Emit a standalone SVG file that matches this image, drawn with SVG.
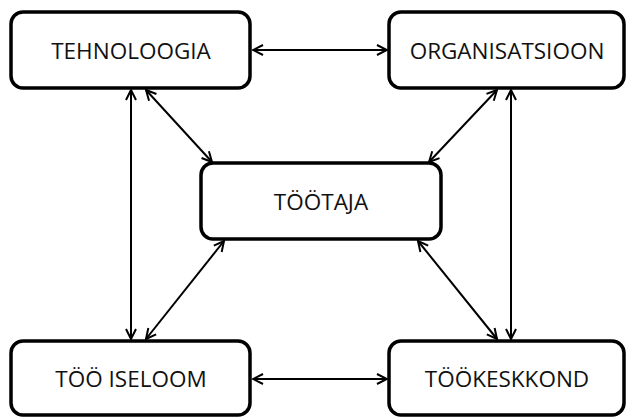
<svg xmlns="http://www.w3.org/2000/svg" width="626" height="417" viewBox="0 0 626 417">
<defs>
<marker id="arr" markerUnits="userSpaceOnUse" markerWidth="14" markerHeight="14" viewBox="0 0 14 14" refX="12" refY="7" orient="auto-start-reverse">
<path d="M2,2 L12,7 L2,12" fill="none" stroke="#000" stroke-width="2" stroke-linejoin="miter"/>
</marker>
</defs>
<style>
.box{fill:#fff;stroke:#000;stroke-width:3.5}
.lbl{font-family:"Open Sans","Segoe UI",sans-serif;font-size:22.5px;fill:#111;text-anchor:middle}
.con{stroke:#000;stroke-width:2;fill:none;marker-start:url(#arr);marker-end:url(#arr)}
</style>
<rect width="626" height="417" fill="#fff"/>
<g id="connectors">
<line class="con" x1="253" y1="50" x2="387" y2="50"/>
<line class="con" x1="253" y1="379" x2="387" y2="379"/>
<line class="con" x1="131" y1="90" x2="131" y2="339"/>
<line class="con" x1="511" y1="90" x2="511" y2="339"/>
<line class="con" x1="146" y1="90" x2="212" y2="162"/>
<line class="con" x1="497" y1="90" x2="429" y2="162"/>
<line class="con" x1="224" y1="241" x2="146" y2="339"/>
<line class="con" x1="418" y1="241" x2="497" y2="339"/>
</g>
<g id="tehnoloogia">
<rect class="box" x="11" y="12" width="239" height="76" rx="12"/>
<text class="lbl" x="131" y="58.5">TEHNOLOOGIA</text>
</g>
<g id="organisatsioon">
<rect class="box" x="389" y="12" width="235" height="76" rx="12"/>
<text class="lbl" x="507" y="58.5">ORGANISATSIOON</text>
</g>
<g id="tootaja">
<rect class="box" x="201" y="163" width="240" height="76" rx="12"/>
<text class="lbl" x="321" y="209.5">TÖÖTAJA</text>
</g>
<g id="too-iseloom">
<rect class="box" x="11" y="341" width="239" height="74" rx="12"/>
<text class="lbl" x="131" y="387">TÖÖ ISELOOM</text>
</g>
<g id="tookeskkond">
<rect class="box" x="389" y="341" width="235" height="74" rx="12"/>
<text class="lbl" x="507" y="387">TÖÖKESKKOND</text>
</g>
</svg>
